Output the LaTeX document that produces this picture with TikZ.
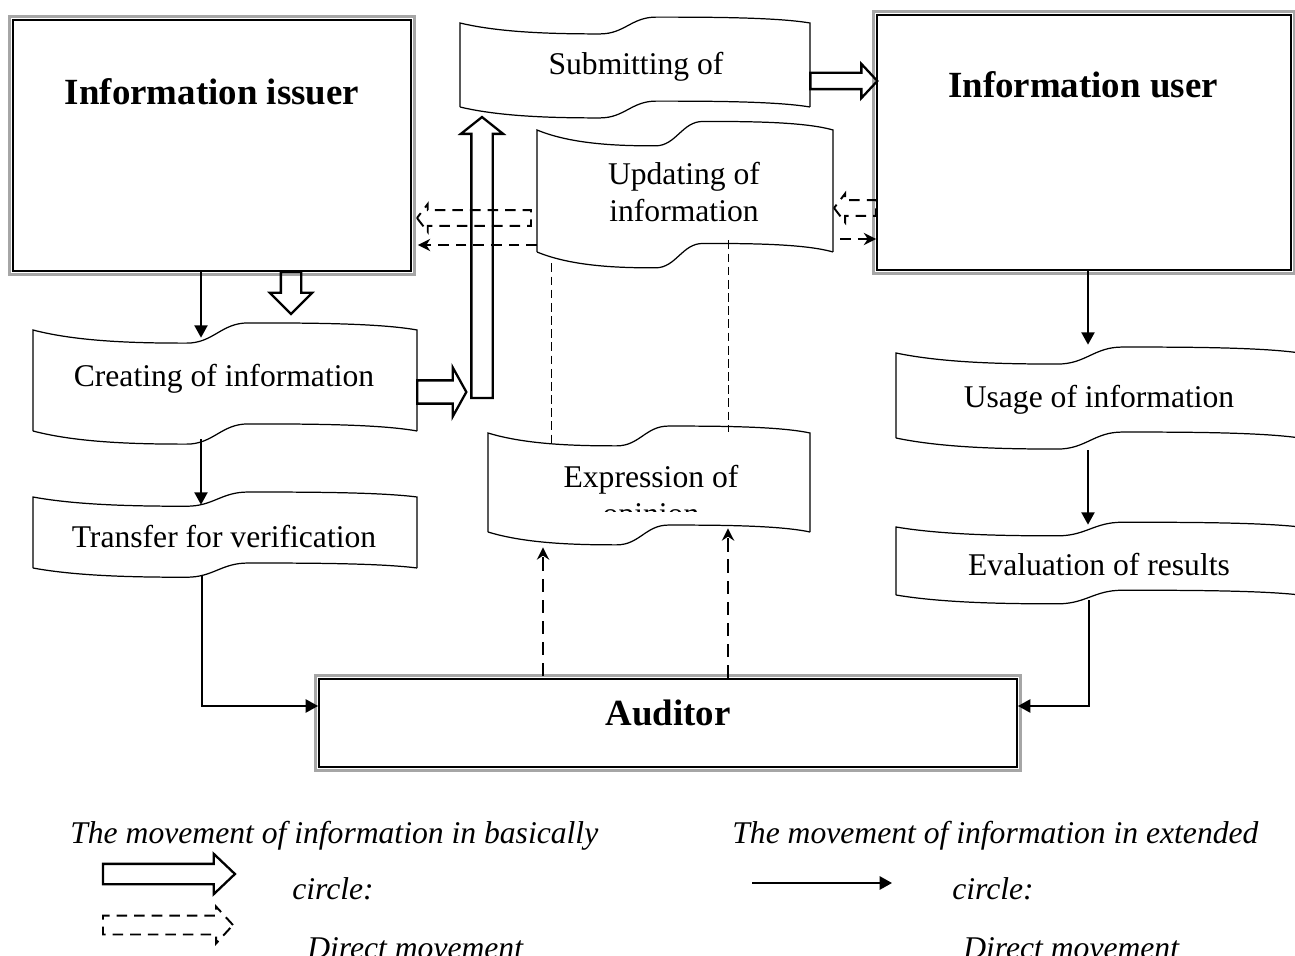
\documentclass[tikz,border=0pt]{standalone}
\usepackage{fontspec}
\setmainfont{Liberation Serif}
\usepackage{tikz}
\usetikzlibrary{arrows.meta,shapes.arrows,fit,calc}

% top or bottom edge of a punched tape, 100 units wide
\newcommand{\tapewave}{.. controls +(12,-12) and +(-12,0) .. ++(40,-13) .. controls +(7,0) and +(-7,0) .. ++(16,20) .. controls +(14,0) and +(-10,7) .. ++(44,-7)}

% name, left, top, right, bottom (picture pixels, y downwards)
\newcommand{\tapeshape}[5]{%
  \node[inner sep=0pt, fit={(#2,-#3) (#4,-#5)}] (#1) {};
  \pgfmathsetmacro\tapew{(#4-#2)/100}%
  \pgfmathsetmacro\tapeh{(#5-#3)/100}%
  \begin{scope}[shift={(#2,-#3)}, xscale=\tapew, yscale=\tapeh]
    \draw[tapeline] (0,-100) -- (0,0) \tapewave -- (100,-100);
    \draw[tapeline] (0,-100) \tapewave;
  \end{scope}}

\tikzset{
  boxnode/.style={draw, line width=1.1pt, inner sep=0pt},
  grayrim/.style={draw=gray!70, line width=2pt},
  tapeline/.style={line width=0.7pt},
  flow/.style={line width=0.9pt, -{Triangle[length=7pt,width=7.5pt]}},
  dashflow/.style={line width=1pt, dash pattern=on 6pt off 4pt, -{Stealth[length=7pt,width=7pt]}},
  extflow/.style={line width=1.1pt, dash pattern=on 7.5pt off 4.5pt, -{Stealth[length=7pt,width=7pt]}},
  guide/.style={line width=0.5pt, dash pattern=on 5pt off 2.5pt},
  fat/.style={single arrow, draw, line width=1.3pt, inner xsep=0pt, minimum width=0pt, outer sep=0pt},
  fatdash/.style={fat, line width=1.1pt, dash pattern=on 6pt off 4pt},
  txt/.style={font=\fontsize{18}{21}\selectfont, align=center, inner sep=0pt},
  bigtxt/.style={font=\fontsize{21}{25}\selectfont\bfseries, inner sep=0pt, anchor=base},
  note/.style={font=\fontsize{18}{21}\selectfont\itshape, inner sep=0pt, anchor=base west}
}

\begin{document}
\begin{tikzpicture}[x=0.02cm, y=0.02cm]
\useasboundingbox (0,0) rectangle (1295,-956);

% main boxes
\node[boxnode, fit={(13,-20) (411,-271)}] (issuer) {};
\node[boxnode, fit={(877,-15) (1291,-270)}] (user) {};
\node[boxnode, fit={(319,-679) (1017,-767)}] (auditor) {};
\foreach \b in {issuer,user,auditor}
  \draw[grayrim] ($(\b.north west)+(-2.5,2.5)$) rectangle ($(\b.south east)+(2.5,-2.5)$);
\node[bigtxt] (issuername) at (212,-105) {Information issuer};
\node[bigtxt] (username) at (1083,-98) {Information user};
\node[bigtxt] (auditorname) at (668,-725) {Auditor};

% tapes
\tapeshape{submit}{460}{23}{810}{107}
\tapeshape{update}{537}{130}{833}{252}
\tapeshape{create}{33}{330}{417}{431}
\tapeshape{transfer}{33}{497}{417}{568}
\tapeshape{express}{488}{433}{810}{532}
\tapeshape{usage}{896}{353}{1300}{438}
\tapeshape{evaluate}{896}{527}{1300}{595}

\node[txt, anchor=base] (submittxt) at (636,-75) {Submitting of};
\node[txt] (updatetxt) at (684,-192) {Updating of\\information};
\node[txt, anchor=base] (createtxt) at (224,-386) {Creating of information};
\node[txt, anchor=base] (transfertxt) at (224,-547) {Transfer for verification};
\node[txt, anchor=base] (expresstxt) at (651,-487) {Expression of};
\begin{scope}
  \clip (488,-433) rectangle (810,-511);
  \node[txt, anchor=base] (opiniontxt) at (651,-524) {opinion};
\end{scope}
\node[txt, anchor=base] (usagetxt) at (1099,-407) {Usage of information};
\node[txt, anchor=base] (evaluatetxt) at (1099,-575) {Evaluation of results};

% basic circle
\node[fat, rotate=-90, anchor=tail, minimum height=0.84cm, inner ysep=0.18cm,
  single arrow head extend=0.22cm, single arrow tip angle=90] (issuerdown) at (issuer.south -| 291,0) {};
\node[fat, anchor=tail, minimum height=0.98cm, inner ysep=0.21cm,
  single arrow head extend=0.26cm, single arrow tip angle=122] (createright) at (create.east |- 0,-392) {};
\node[fat, rotate=90, anchor=tail, minimum height=5.62cm, inner ysep=0.19cm,
  single arrow head extend=0.21cm, single arrow tip angle=103] (rise) at (482,-398) {};
\node[fat, anchor=tail, minimum height=1.34cm, inner ysep=0.14cm,
  single arrow head extend=0.18cm, single arrow tip angle=94] (submitright) at (submit.east |- 0,-81) {};
\node[fatdash, rotate=180, anchor=tail, minimum height=2.28cm, inner ysep=0.14cm,
  single arrow head extend=0.12cm, single arrow tip angle=105] (backleft) at (531,-218) {};
\node[fatdash, rotate=180, anchor=tail, minimum height=0.84cm, inner ysep=0.14cm,
  single arrow head extend=0.13cm, single arrow tip angle=105] (backright) at (user.west |- 0,-208) {};

% extended circle
\draw[flow] (issuer.south -| 201,0) -- ($(create.north -| 201,0)+(0,-8)$);
\draw[flow] ($(create.south -| 201,0)+(0,-8)$) -- ($(transfer.north -| 201,0)+(0,-8)$);
\draw[flow] ($(transfer.south -| 202,0)+(0,-7)$) |- ($(auditor.west)+(0,17)$);
\draw[flow] (user.south -| 1088,0) -- ($(usage.north -| 1088,0)+(0,8)$);
\draw[flow] ($(usage.south -| 1088,0)+(0,-12)$) -- ($(evaluate.north -| 1088,0)+(0,2)$);
\draw[flow] ($(evaluate.south -| 1089,0)+(0,-5)$) |- ($(auditor.east)+(0,17)$);
\draw[dashflow] (update.west |- 0,-245) -- ($(issuer.east |- 0,-245)+(6,0)$);
\draw[dashflow] ($(update.east |- 0,-239)+(7,0)$) -- (user.west |- 0,-239);
\draw[extflow] ($(auditor.north -| 543,0)+(0,2)$) -- ($(express.south -| 543,0)+(0,-15)$);
\draw[extflow] (auditor.north -| 728,0) -- ($(express.south -| 728,0)+(0,4)$);
\draw[guide] ($(update.south -| 551,0)+(0,-11)$) -- ($(express.north -| 551,0)+(0,-13)$);
\draw[guide] ($(update.south -| 728,0)+(0,12)$) -- ($(express.north -| 728,0)+(0,1)$);

% key
\node[note] (keybasic) at (70,-843) {The movement of information in basically};
\node[note] (keyext) at (732,-843) {The movement of information in extended};
\node[note] (circleA) at (292,-899) {circle:};
\node[note] (circleB) at (952,-899) {circle:};
\node[note] (directA) at (307,-958) {Direct movement};
\node[note] (directB) at (963,-958) {Direct movement};
\node[fat, anchor=tail, minimum height=2.64cm, inner ysep=0.18cm,
  single arrow head extend=0.2cm, single arrow tip angle=87] (keyfat) at (103,-874) {};
\node[fatdash, anchor=tail, minimum height=2.6cm, inner ysep=0.17cm,
  single arrow head extend=0.18cm, single arrow tip angle=95] (keyfatdash) at (103,-925) {};
\coordinate (keyfrom) at (752,-883);
\coordinate (keyto) at (892,-883);
\draw[flow, line width=1.2pt] (keyfrom) -- (keyto);
\end{tikzpicture}
\end{document}
